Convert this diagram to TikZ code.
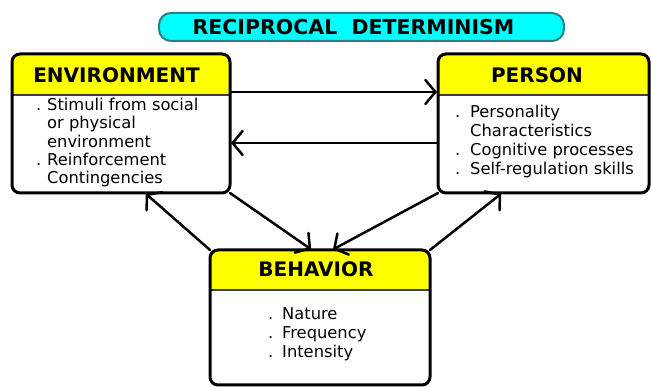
\documentclass[tikz,border=0pt]{standalone}
\usepackage{fontspec}
\setmainfont{DejaVu Sans}
\usetikzlibrary{arrows.meta}
\definecolor{hdr}{HTML}{FFFF00}
\definecolor{ttl}{HTML}{00FFFF}
\definecolor{ttlborder}{HTML}{2E8080}
\definecolor{divline}{HTML}{404040}
\begin{document}
\begin{tikzpicture}[x=1pt,y=-1pt,
  boxshape/.style={rectangle, draw=none, fill=white, inner sep=0pt, outer sep=0pt},
  border/.style={draw=black, line width=3pt, rounded corners=8pt},
  divider/.style={draw=divline, line width=1.2pt},
  hdrtext/.style={inner sep=0pt, font=\fontsize{20}{24}\selectfont\bfseries},
  bodytext/.style={inner sep=0pt, anchor=north west, align=left},
  arr/.style={line width=2.5pt, line cap=round, -{Straight Barb[length=10pt,width=24pt,line cap=round]}, shorten >=1pt}
]
\useasboundingbox (0,0) rectangle (651,387);

% title
\node[rectangle, rounded corners=12pt, fill=ttl, draw=ttlborder, line width=2pt,
      minimum width=405pt, minimum height=28pt, inner sep=0pt] (title) at (361.5,27) {};
\node[hdrtext, font=\fontsize{20.5}{24}\selectfont\bfseries] (titletext) at (353.5,27) {RECIPROCAL\ \ DETERMINISM};

% environment box
\node[boxshape, minimum width=218pt, minimum height=139pt] (env) at (121,123.5) {};
\begin{scope}
\clip[rounded corners=8pt] (env.north west) rectangle (env.south east);
\fill[hdr] (env.north west) rectangle ([yshift=-41pt]env.north east);
\end{scope}
\draw[divider] ([yshift=-41pt]env.north west) -- ([yshift=-41pt]env.north east);
\draw[border] (env.north west) rectangle (env.south east);
\node[hdrtext] (envh) at (116.5,75.5) {ENVIRONMENT};
\node[bodytext, font=\fontsize{16.3}{18.3}\selectfont] (envb) at (36,98.1)
  {\makebox[11pt][l]{.}Stimuli from social\\
   \makebox[11pt][l]{}or physical\\
   \makebox[11pt][l]{}environment\\
   \makebox[11pt][l]{.}Reinforcement\\
   \makebox[11pt][l]{}Contingencies};

% person box
\node[boxshape, minimum width=211pt, minimum height=139pt] (person) at (543.5,123.5) {};
\begin{scope}
\clip[rounded corners=8pt] (person.north west) rectangle (person.south east);
\fill[hdr] (person.north west) rectangle ([yshift=-41pt]person.north east);
\end{scope}
\draw[divider] ([yshift=-41pt]person.north west) -- ([yshift=-41pt]person.north east);
\draw[border] (person.north west) rectangle (person.south east);
\node[hdrtext] (personh) at (537,75.5) {PERSON};
\node[bodytext, font=\fontsize{16.3}{19}\selectfont] (personb) at (455,104.6)
  {\makebox[15pt][l]{.}Personality\\
   \makebox[15pt][l]{}Characteristics\\
   \makebox[15pt][l]{.}Cognitive processes\\
   \makebox[15pt][l]{.}Self-regulation skills};

% behavior box
\node[boxshape, minimum width=220pt, minimum height=135pt] (beh) at (320,317.5) {};
\begin{scope}
\clip[rounded corners=8pt] (beh.north west) rectangle (beh.south east);
\fill[hdr] (beh.north west) rectangle ([yshift=-40pt]beh.north east);
\end{scope}
\draw[divider] ([yshift=-40pt]beh.north west) -- ([yshift=-40pt]beh.north east);
\draw[border] (beh.north west) rectangle (beh.south east);
\node[hdrtext] (behh) at (316,269.5) {BEHAVIOR};
\node[bodytext, font=\fontsize{16.3}{19}\selectfont] (behb) at (268,307)
  {\makebox[14pt][l]{.}Nature\\
   \makebox[14pt][l]{.}Frequency\\
   \makebox[14pt][l]{.}Intensity};

% connectors
\draw[arr] ([yshift=31.5pt]env.east) -- ([yshift=31.5pt]person.west);
\draw[arr] ([yshift=-19.5pt]person.west) -- ([yshift=-19.5pt]env.east);
\draw[arr] (beh.north west) -- ([xshift=24pt]env.south);
\draw[arr] (env.south east) -- ([xshift=-8pt]beh.north);
\draw[arr] (person.south west) -- ([xshift=12pt]beh.north);
\draw[arr] (beh.north east) -- ([xshift=-41.5pt]person.south);
\end{tikzpicture}
\end{document}
